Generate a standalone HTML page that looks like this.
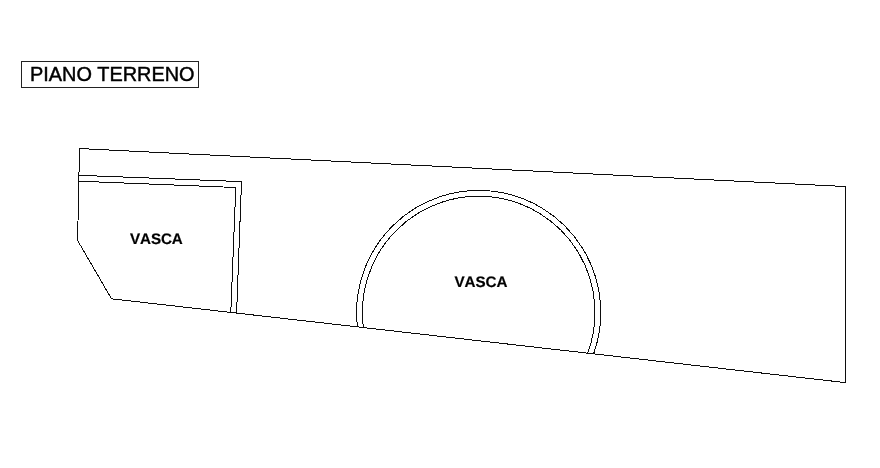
<!DOCTYPE html>
<html><head><meta charset="utf-8"><title>Piano Terreno</title>
<style>
html,body{margin:0;padding:0;background:#fff;}
body{width:880px;height:468px;overflow:hidden;position:relative;font-family:"Liberation Sans",Arial,sans-serif;}
svg{position:absolute;left:0;top:0;}
.lbl{position:absolute;left:21px;top:61px;width:176px;height:24.6px;border:1px solid #222;box-sizing:content-box;}
.lbl span{will-change:transform;position:absolute;left:7.7px;top:1.4px;font-size:19.9px;word-spacing:0.2px;-webkit-text-stroke:0.45px #000;line-height:22px;color:#000;white-space:nowrap;}
.v{position:absolute;font-weight:bold;font-size:15.2px;line-height:16px;text-rendering:geometricPrecision;font-kerning:none;letter-spacing:-0.1px;-webkit-text-stroke:0.2px #000;color:#000;white-space:nowrap;}
</style></head><body>
<div class="lbl"><span>PIANO TERRENO</span></div>
<svg width="880" height="468" viewBox="0 0 880 468" fill="none" stroke="#0c0c0c" stroke-width="1" stroke-linejoin="miter" shape-rendering="crispEdges">
<path d="M79.5 148.55 L845.5 186.53 L845.5 382.6 L111.5 298.8 L77.6 240.5 Z"/>
<path d="M79 175.3 L241.5 181.6 L236.6 313.08"/>
<path d="M78.9 181.2 L235.8 187.5 L230.8 312.42"/>
<path d="M357.45 326.88 A122.1 122.1 0 1 1 593.59 353.84"/>
<path d="M363.38 327.56 A116.3 116.3 0 1 1 587.66 353.16"/>
</svg>
<div class="v" style="left:130px;top:232.2px;">VASCA</div>
<div class="v" style="left:454.6px;top:275.2px;">VASCA</div>
</body></html>
